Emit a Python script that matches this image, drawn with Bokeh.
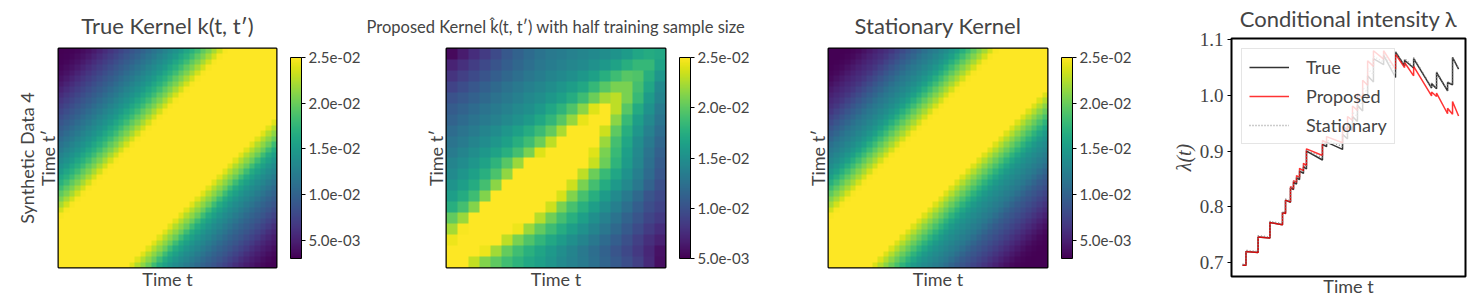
import numpy as np
from bokeh.plotting import figure
from bokeh.models import (LinearColorMapper, ColorBar, FixedTicker, CustomJSTickFormatter,
                          PrintfTickFormatter, Range1d, Legend, LegendItem, LinearAxis)
from bokeh.palettes import Viridis256
from bokeh.layouts import row
from bokeh.embed import file_html
from bokeh.resources import INLINE

# ---------------- data ----------------
KERNEL_UNIT = 1e-3   # all kernel values below are in units of 1e-3
LAG_STEP = 0.025     # lag spacing of the lag profiles (fraction of the time window)

# kernels read as profiles along the lag d = t - t' (index k -> |d| = k * LAG_STEP)
true_lag_profile_below = [30, 30, 30, 29.8, 29.5, 29.3, 29.0, 28.5, 28.0, 27.5, 27.0, 26.3, 25.5, 24.0,
                          22.5, 21.3, 20.0, 18.2, 16.5, 15.5, 14.5, 13.7, 13.0, 12.2, 11.5, 10.7, 10.0,
                          9.4, 8.8, 8.1, 7.4, 6.7, 6.0, 5.4, 4.8, 4.3, 3.8, 3.5, 3.2, 3.1, 3.0]
true_lag_profile_above = [30, 29.9, 29.6, 29.2, 28.7, 28.0, 27.2, 26.3, 25.5, 24.8, 23.5, 22.0, 20.7,
                          19.5, 18.2, 17.0, 16.0, 15.0, 14.2, 13.5, 12.8, 12.1, 11.4, 10.7, 10.0, 9.4,
                          8.8, 8.2, 7.6, 7.0, 6.4, 5.8, 5.2, 4.6, 4.1, 3.7, 3.4, 3.2, 3.1, 3.0, 3.0]
stat_lag_profile_below = [29, 29, 28.8, 28.4, 27.8, 27.0, 26.0, 25.0, 23.8, 22.5, 21.2, 20.0, 18.7,
                          17.3, 16.0, 15.0, 14.2, 13.6, 13.0, 12.4, 11.8, 11.0, 10.2, 9.4, 8.8, 8.2,
                          7.6, 7.0, 6.3, 5.7, 5.1, 4.5, 4.0, 3.6, 3.3, 3.1, 3.0, 3.0, 3.0, 3.0, 3.0]
stat_lag_profile_above = [29, 29, 28.9, 28.7, 28.4, 28.0, 27.4, 26.7, 25.8, 24.8, 23.5, 22.0, 20.8,
                          19.5, 18.2, 16.8, 15.5, 14.6, 13.8, 13.1, 12.4, 11.8, 11.1, 10.3, 9.6, 8.8,
                          8.0, 7.3, 6.6, 6.0, 5.5, 5.0, 4.5, 4.0, 3.6, 3.3, 3.1, 3.0, 3.0, 3.0, 3.0]

# proposed (non-stationary) kernel on a 20 x 20 grid;
# rows from top (t' = 0.975) to bottom (t' = 0.025), columns t = 0.025 ... 0.975
proposed_kernel = [
    [5.5, 6.5, 7.6, 8.5, 9.5, 10.5, 11.3, 12.0, 12.6, 13.1, 13.4, 13.8, 14.1, 14.5, 14.8, 15.3, 16.0, 16.8, 17.3, 17.0],
    [7.0, 7.8, 8.6, 9.4, 10.2, 11.0, 11.7, 12.3, 12.9, 13.4, 13.8, 14.2, 14.6, 15.1, 15.7, 16.5, 17.5, 18.3, 18.3, 16.5],
    [8.0, 8.8, 9.5, 10.2, 11.0, 11.7, 12.3, 12.9, 13.5, 14.0, 14.5, 15.0, 15.6, 16.4, 17.5, 18.8, 19.8, 19.5, 17.5, 15.5],
    [9.0, 9.7, 10.4, 11.1, 11.8, 12.5, 13.1, 13.7, 14.2, 14.8, 15.4, 16.1, 17.0, 18.3, 19.8, 21.0, 21.0, 19.0, 16.8, 14.5],
    [10.0, 10.6, 11.2, 11.8, 12.5, 13.1, 13.7, 14.3, 14.9, 15.6, 16.4, 17.4, 18.8, 20.5, 22.3, 23.0, 21.0, 18.5, 16.0, 14.0],
    [10.8, 11.4, 12.0, 12.6, 13.2, 13.8, 14.4, 15.0, 15.8, 16.8, 18.0, 19.5, 21.5, 24.0, 26.0, 23.0, 19.8, 17.2, 15.2, 13.3],
    [11.4, 12.0, 12.6, 13.2, 13.8, 14.4, 15.1, 15.9, 16.9, 18.2, 19.8, 21.8, 24.3, 27.0, 25.5, 21.5, 18.5, 16.2, 14.4, 12.8],
    [12.1, 12.7, 13.3, 14.0, 14.7, 15.5, 16.4, 17.4, 18.6, 20.2, 22.5, 25.8, 28.0, 27.0, 23.5, 20.0, 17.5, 15.5, 13.8, 12.2],
    [12.7, 13.3, 14.0, 14.7, 15.5, 16.4, 17.5, 18.8, 20.5, 23.0, 26.5, 29.0, 28.0, 25.5, 22.0, 19.0, 16.8, 14.8, 13.2, 11.7],
    [13.3, 14.0, 14.8, 15.6, 16.5, 17.6, 19.0, 21.0, 24.0, 26.5, 29.5, 29.0, 27.0, 24.0, 21.0, 18.5, 16.3, 14.4, 12.7, 11.2],
    [14.0, 14.7, 15.5, 16.5, 18.0, 19.8, 22.0, 25.0, 28.0, 30.0, 29.5, 28.0, 26.0, 23.3, 20.5, 18.0, 16.0, 14.2, 12.4, 10.8],
    [14.6, 15.4, 16.4, 17.6, 19.3, 21.7, 25.2, 28.5, 30.0, 30.0, 29.0, 26.0, 23.0, 20.5, 18.5, 16.8, 15.2, 13.6, 12.0, 10.4],
    [15.3, 16.2, 17.3, 19.0, 21.5, 25.5, 28.5, 30.0, 30.0, 29.0, 27.0, 23.5, 21.0, 19.0, 17.3, 15.8, 14.4, 13.0, 11.4, 9.9],
    [16.2, 17.3, 18.8, 21.2, 25.5, 28.5, 30.0, 30.0, 29.0, 27.0, 23.8, 21.2, 19.2, 17.5, 16.0, 14.6, 13.2, 11.8, 10.3, 9.4],
    [17.5, 19.0, 21.3, 25.3, 28.3, 30.0, 29.8, 28.5, 25.8, 23.5, 21.0, 19.2, 17.6, 16.2, 14.9, 13.6, 12.3, 11.0, 9.8, 9.0],
    [20.2, 22.0, 25.0, 28.0, 30.0, 29.5, 28.0, 25.5, 22.8, 20.7, 19.0, 17.6, 16.3, 15.0, 13.8, 12.6, 11.4, 10.3, 9.2, 8.4],
    [22.3, 24.8, 27.5, 29.5, 29.0, 27.0, 24.5, 22.0, 20.2, 18.7, 17.4, 16.2, 15.1, 14.0, 12.9, 11.8, 10.7, 9.6, 8.5, 7.6],
    [24.5, 27.0, 29.0, 28.0, 25.5, 23.0, 21.0, 19.5, 18.2, 17.0, 16.0, 15.0, 14.0, 13.0, 12.0, 11.0, 9.9, 8.8, 7.7, 6.8],
    [27.0, 29.0, 27.0, 24.5, 22.2, 20.3, 18.9, 17.7, 16.7, 15.8, 14.9, 14.0, 13.1, 12.2, 11.3, 10.3, 9.3, 8.3, 7.2, 6.0],
    [28.5, 25.8, 23.2, 21.2, 20.0, 18.9, 17.9, 17.0, 16.3, 15.4, 14.6, 13.9, 13.2, 12.4, 11.5, 10.7, 9.8, 8.8, 7.4, 5.8],
]
colorbar_limits = [(3.0e-3, 2.5e-2), (5.0e-3, 2.5e-2), (3.0e-3, 2.5e-2)]
colorbar_ticks = [5.0e-3, 1.0e-2, 1.5e-2, 2.0e-2, 2.5e-2]

# conditional intensity: event times and intensity just before / after each event
t_start, t_end = 0.0, 100.0
event_times = [1.6, 7.2, 12.7, 18.5, 19.9, 22.2, 23.6, 25.0, 26.4, 28.2, 29.6, 37.0, 38.9, 46.3,
               48.6, 50.9, 53.2, 55.6, 57.9, 60.6, 65.3, 70.8, 75.0, 79.2, 87.5, 89.8, 94.9, 97.2]
true_start, true_end = 0.695, 1.047
true_pre = [0.695, 0.718, 0.744, 0.768, 0.788, 0.808, 0.831, 0.841, 0.849, 0.860, 0.868, 0.884, 0.908, 0.903,
            0.922, 0.937, 0.953, 0.972, 0.993, 1.024, 1.055, 1.032, 1.053, 1.049, 1.013, 1.012, 1.008, 1.019]
true_post = [0.720, 0.746, 0.772, 0.790, 0.812, 0.834, 0.844, 0.852, 0.864, 0.872, 0.900, 0.912, 0.916, 0.930,
             0.945, 0.962, 0.982, 1.003, 1.035, 1.066, 1.072, 1.078, 1.063, 1.066, 1.021, 1.041, 1.023, 1.068]
prop_start, prop_end = 0.695, 0.963
prop_pre = [0.695, 0.718, 0.744, 0.768, 0.788, 0.809, 0.833, 0.844, 0.853, 0.865, 0.874, 0.892, 0.915, 0.915,
            0.938, 0.955, 0.973, 0.995, 1.018, 1.052, 1.065, 1.047, 1.050, 1.035, 0.999, 0.998, 0.967, 0.966]
prop_post = [0.720, 0.746, 0.772, 0.790, 0.812, 0.836, 0.847, 0.856, 0.869, 0.878, 0.904, 0.919, 0.926, 0.945,
             0.962, 0.981, 1.003, 1.027, 1.062, 1.080, 1.080, 1.074, 1.059, 1.052, 1.006, 1.004, 0.977, 0.989]
stat_start, stat_end = 0.697, 1.048
stat_pre = [0.697, 0.720, 0.746, 0.770, 0.790, 0.810, 0.833, 0.843, 0.851, 0.862, 0.870, 0.888, 0.911, 0.908,
            0.929, 0.945, 0.962, 0.983, 1.005, 1.037, 1.060, 1.038, 1.054, 1.050, 1.014, 1.013, 1.009, 1.020]
stat_post = [0.722, 0.748, 0.774, 0.792, 0.814, 0.836, 0.846, 0.854, 0.866, 0.874, 0.902, 0.915, 0.920, 0.936,
             0.952, 0.970, 0.992, 1.014, 1.048, 1.070, 1.075, 1.078, 1.066, 1.068, 1.022, 1.042, 1.024, 1.068]
intensity_ticks = [0.7, 0.8, 0.9, 1.0, 1.1]

# ---------------- helpers ----------------
SANS = "Lato"
SERIF = "Liberation Serif"
H = 297


def lag_table(below, above, n=40):
    """cell (row t', column t) takes the profile value at lag index t - t'."""
    img = np.empty((n, n))
    for j in range(n):
        for i in range(n):
            k = i - j
            img[j, i] = below[k] if k >= 0 else above[-k]
    return img


def no_frame_align(p):
    # let every panel keep its own borders instead of sharing them across the row
    try:
        p.frame_align = False
    except Exception:
        pass


fmt = CustomJSTickFormatter(code="""
const s = tick.toExponential(1);
const parts = s.split('e');
const e = parseInt(parts[1]);
const a = Math.abs(e);
return parts[0] + 'e' + (e < 0 ? '-' : '+') + (a < 10 ? '0' + a : '' + a);
""")


def style_blank_axis(ax, label, size="18px", standoff=0):
    ax.ticker = FixedTicker(ticks=[])
    ax.major_label_text_font_size = "0px"
    ax.major_label_standoff = 0
    ax.major_tick_out = 0
    ax.major_tick_in = 0
    ax.minor_tick_out = 0
    ax.minor_tick_in = 0
    ax.axis_line_color = None
    ax.axis_label = label
    ax.axis_label_text_font = SANS
    ax.axis_label_text_font_size = size
    ax.axis_label_text_font_style = "normal"
    ax.axis_label_standoff = standoff


def style_title(p, text, size, standoff, valign="bottom"):
    p.title.text = text
    p.title.align = "center"
    p.title.vertical_align = valign
    p.title.text_font = SANS
    p.title.text_font_size = size
    p.title.text_font_style = "normal"
    p.title.standoff = standoff


def heat_fig(img, lims, title, title_size, title_standoff, width, left, right, extra_label=None):
    frame_w = width - left - right
    p = figure(width=width, height=H, x_range=Range1d(0, 1), y_range=Range1d(0, 1),
               output_backend="svg", toolbar_location=None,
               min_border_left=left, min_border_right=right, min_border_top=48, min_border_bottom=30)
    no_frame_align(p)
    mapper = LinearColorMapper(palette=Viridis256, low=lims[0], high=lims[1])
    p.image(image=[img * KERNEL_UNIT], x=0, y=0, dw=1, dh=1, color_mapper=mapper)
    p.xgrid.visible = False
    p.ygrid.visible = False
    p.outline_line_color = "black"
    p.outline_line_width = 2
    style_title(p, title, title_size, title_standoff)
    style_blank_axis(p.xaxis[0], "Time t")
    style_blank_axis(p.yaxis[0], "Time t\u2032")
    if extra_label:
        ax2 = LinearAxis()
        style_blank_axis(ax2, extra_label, standoff=-4)
        p.add_layout(ax2, "left")
    cb = ColorBar(color_mapper=mapper, width=11, height=201, location=(frame_w + 14, 9),
                  margin=0, padding=0, ticker=FixedTicker(ticks=colorbar_ticks), formatter=fmt,
                  major_tick_line_color="black", major_tick_in=0, major_tick_out=4,
                  bar_line_color="black", bar_line_width=1, label_standoff=3,
                  major_label_text_font=SANS, major_label_text_font_size="15px",
                  background_fill_alpha=0, border_line_color=None)
    p.add_layout(cb)
    return p


true_img = lag_table(true_lag_profile_below, true_lag_profile_above)
stat_img = lag_table(stat_lag_profile_below, stat_lag_profile_above)
prop_img = np.flipud(np.array(proposed_kernel, dtype=float))

p1 = heat_fig(true_img, colorbar_limits[0], "True Kernel k(t, t\u2032)", "22px", 19, 365, 58, 89,
              extra_label="Synthetic Data 4")
p2 = heat_fig(prop_img, colorbar_limits[1],
              "Proposed Kernel k\u0302(t, t\u2032) with half training sample size", "16.5px", 23, 400, 81, 100)
p3 = heat_fig(stat_img, colorbar_limits[2], "Stationary Kernel", "22px", 19, 382, 63, 100)


def polyline(start, end, pre, post):
    xs, ys = [t_start], [start]
    for t, a, b in zip(event_times, pre, post):
        xs += [t, t]
        ys += [a, b]
    xs.append(t_end)
    ys.append(end)
    return xs, ys


p4 = figure(width=321, height=304, x_range=Range1d(-5.1, 103.2), y_range=Range1d(0.675, 1.102),
            output_backend="svg", toolbar_location=None,
            min_border_left=84, min_border_right=3, min_border_top=38, min_border_bottom=28)
no_frame_align(p4)
p4.xgrid.visible = False
p4.ygrid.visible = False
p4.outline_line_color = "black"
p4.outline_line_width = 2
style_title(p4, "Conditional intensity \u03bb", "22px", 9, valign="top")
style_blank_axis(p4.xaxis[0], "Time t", standoff=-2)
ya = p4.yaxis[0]
ya.ticker = FixedTicker(ticks=intensity_ticks)
ya.formatter = PrintfTickFormatter(format="%.1f")
ya.major_label_text_font = SERIF
ya.major_label_text_font_size = "19px"
ya.major_label_standoff = 4
ya.major_tick_out = 4
ya.major_tick_in = 0
ya.minor_tick_out = 0
ya.minor_tick_in = 0
ya.axis_line_color = None
ya.axis_label = "\u03bb(t)"
ya.axis_label_text_font = SERIF
ya.axis_label_text_font_size = "20px"
ya.axis_label_text_font_style = "italic"
ya.axis_label_standoff = 2

xs, ys = polyline(true_start, true_end, true_pre, true_post)
r_true = p4.line(xs, ys, line_color="black", line_width=1.5, line_alpha=0.8)
xs, ys = polyline(prop_start, prop_end, prop_pre, prop_post)
r_prop = p4.line(xs, ys, line_color="red", line_width=1.5, line_alpha=0.8)
xs, ys = polyline(stat_start, stat_end, stat_pre, stat_post)
r_stat = p4.line(xs, ys, line_color="gray", line_width=1.5, line_alpha=0.8, line_dash="1 2")

legend = Legend(items=[LegendItem(label="True", renderers=[r_true]),
                       LegendItem(label="Proposed", renderers=[r_prop]),
                       LegendItem(label="Stationary", renderers=[r_stat])],
                location="top_left", margin=10, padding=7, spacing=7,
                glyph_width=40, glyph_height=20, label_height=20, label_standoff=17,
                label_text_font=SANS, label_text_font_size="18px",
                border_line_color="#cccccc", background_fill_alpha=0.8)
p4.add_layout(legend)

layout = row(p1, p2, p3, p4)
open("out.html", "w").write(file_html(layout, INLINE))
